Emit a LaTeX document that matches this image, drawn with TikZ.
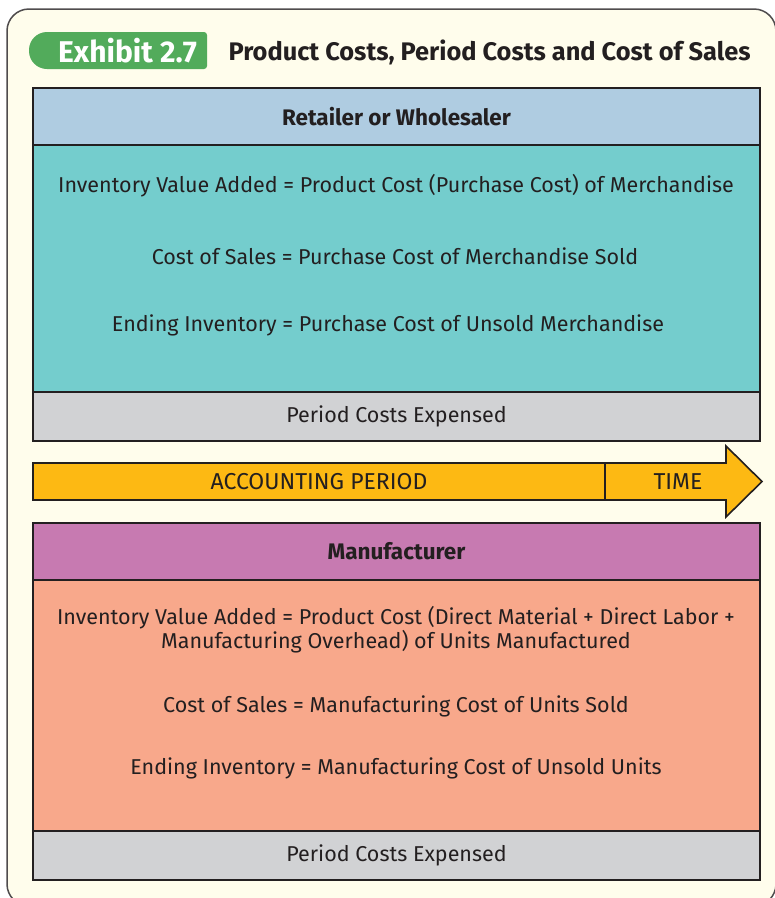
\documentclass[tikz,border=0pt]{standalone}
\usepackage{fontspec}
\setmainfont{Fira Sans}
\usetikzlibrary{positioning}

\definecolor{paper}{HTML}{FFFDEC}
\definecolor{ink}{HTML}{231F20}
\definecolor{tagGreen}{HTML}{52AB5B}
\definecolor{headBlue}{HTML}{AFCCE1}
\definecolor{bodyTeal}{HTML}{74CDCD}
\definecolor{costGray}{HTML}{D1D2D4}
\definecolor{timeYellow}{HTML}{FDB913}
\definecolor{headPurple}{HTML}{C77AB1}
\definecolor{bodySalmon}{HTML}{F8A88B}

\newcommand{\bodyfont}{\fontsize{21.5}{24}\selectfont}
\newcommand{\capsfont}{\fontsize{23}{26}\selectfont}
\newcommand{\headfont}{\fontsize{22.5}{26}\selectfont\bfseries}

\tikzset{
  band/.style={draw=ink, line width=1.6pt, minimum width=727pt, inner sep=0pt, outer sep=0pt, anchor=north west},
  line/.style={text=ink, font=\bodyfont, align=center},
  capsline/.style={text=ink, font=\capsfont},
  headline/.style={text=ink, font=\headfont}
}

\begin{document}
\begin{tikzpicture}[x=1pt, y=-1pt]
    \clip (0,0) rectangle (775,898);
    \fill[white] (0,0) rectangle (775,898);
    % outer panel
    \draw[fill=paper, draw=ink!80, line width=1.5pt, rounded corners=22pt] (7,9) rectangle (776,906);

    % exhibit tag and title
    \fill[tagGreen] (120,32) [rounded corners=3pt] -- (207,32) -- (207,69) [rounded corners=18pt] -- (29,69) -- (29,32) -- cycle;
    \node[text=white, font=\fontsize{30}{32}\selectfont\bfseries] (tag) at (127.5,51) {Exhibit 2.7};
    \node[text=ink, font=\fontsize{25.4}{28}\selectfont\bfseries, anchor=west] (title) at (225,52) {Product Costs, Period Costs and Cost of Sales};

    % retailer block
    \node[band, fill=headBlue, minimum height=57pt] (retail) at (33,88) {};
    \node[band, fill=bodyTeal, minimum height=247pt, below=0pt of retail.south west, anchor=north west] (retailbody) {};
    \node[band, fill=costGray, minimum height=49pt, below=0pt of retailbody.south west, anchor=north west] (retailcost) {};
    \node[headline] at (retail) {Retailer or Wholesaler};
    \node[line] (r1) at (396,186) {Inventory Value Added = Product Cost (Purchase Cost) of Merchandise};
    \node[line] (r2) at (395,256) {Cost of Sales = Purchase Cost of Merchandise Sold};
    \node[line] (r3) at (388,325) {Ending Inventory = Purchase Cost of Unsold Merchandise};
    \node[line] at (retailcost) {Period Costs Expensed};

    % time arrow
    \draw[draw=ink, fill=timeYellow, line width=1.6pt] (33,463) -- (726,463) -- (726,446) -- (762,481.5) -- (726,517) -- (726,500) -- (33,500) -- cycle;
    \draw[ink, line width=1.6pt] (605,463) -- (605,500);
    \node[capsline] (period) at (319,482) {ACCOUNTING PERIOD};
    \node[capsline] (time) at (678,482) {TIME};

    % manufacturer block
    \node[band, fill=headPurple, minimum height=57pt] (manuf) at (33,523) {};
    \node[band, fill=bodySalmon, minimum height=251pt, below=0pt of manuf.south west, anchor=north west] (manufbody) {};
    \node[band, fill=costGray, minimum height=49pt, below=0pt of manufbody.south west, anchor=north west] (manufcost) {};
    \node[headline] at (manuf) {Manufacturer};
    \node[line] (m1) at (396,630) {Inventory Value Added = Product Cost (Direct Material + Direct Labor +\\Manufacturing Overhead) of Units Manufactured};
    \node[line] (m2) at (396,706) {Cost of Sales = Manufacturing Cost of Units Sold};
    \node[line] (m3) at (396,768) {Ending Inventory = Manufacturing Cost of Unsold Units};
    \node[line] at (manufcost) {Period Costs Expensed};
\end{tikzpicture}
\end{document}
